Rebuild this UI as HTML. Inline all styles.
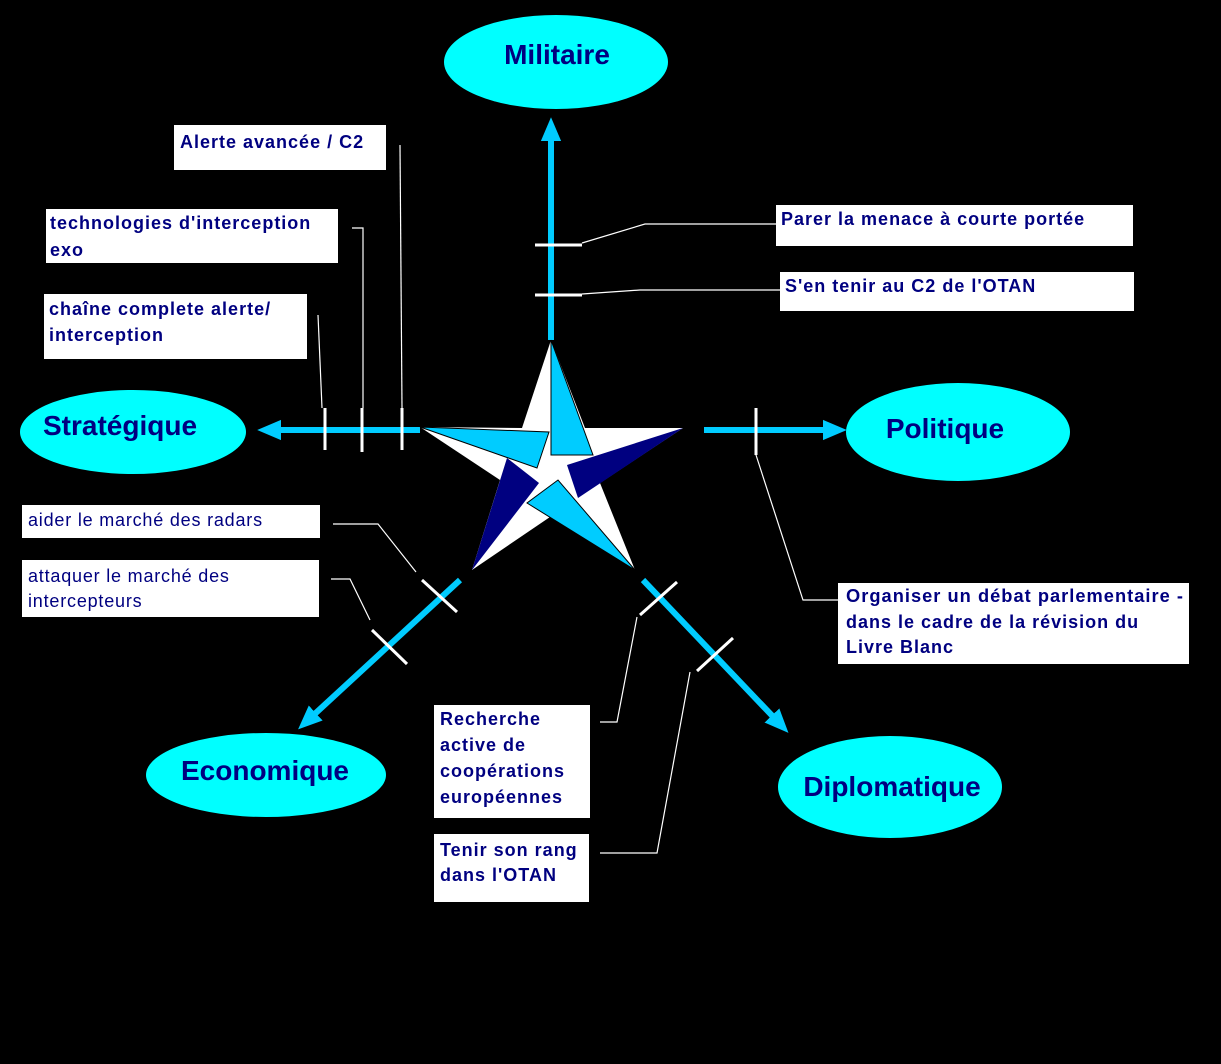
<!DOCTYPE html>
<html><head><meta charset="utf-8"><style>
html,body{margin:0;padding:0;background:#000;}
svg{display:block;}
.b{font-family:"Liberation Sans",sans-serif;font-weight:bold;font-size:18px;fill:#000080;letter-spacing:1px;}
.n{font-family:"Liberation Sans",sans-serif;font-size:18px;fill:#000080;letter-spacing:0.8px;}
.e{font-family:"Liberation Sans",sans-serif;font-weight:bold;font-size:28px;fill:#000080;}
</style></head><body>
<svg width="1221" height="1064" viewBox="0 0 1221 1064" xmlns="http://www.w3.org/2000/svg">
<rect width="1221" height="1064" fill="#000"/>
<defs>
<marker id="ah" markerWidth="4" markerHeight="4" refX="2.2" refY="2" orient="auto" markerUnits="strokeWidth">
<path d="M0,0.3 L4,2 L0,3.7 z" fill="#00ccff"/>
</marker>
</defs>
<ellipse cx="556" cy="62" rx="112" ry="47" fill="#00ffff"/>
<text class="e" x="557" y="64" text-anchor="middle">Militaire</text>
<ellipse cx="133" cy="432" rx="113" ry="42" fill="#00ffff"/>
<text class="e" x="120" y="435" text-anchor="middle">Stratégique</text>
<ellipse cx="958" cy="432" rx="112" ry="49" fill="#00ffff"/>
<text class="e" x="945" y="438" text-anchor="middle">Politique</text>
<ellipse cx="266" cy="775" rx="120" ry="42" fill="#00ffff"/>
<text class="e" x="265" y="780" text-anchor="middle">Economique</text>
<ellipse cx="890" cy="787" rx="112" ry="51" fill="#00ffff"/>
<text class="e" x="892" y="796" text-anchor="middle">Diplomatique</text>

<g stroke="#00ccff" stroke-width="6" fill="none" marker-end="url(#ah)">
<line x1="551" y1="340" x2="551" y2="128"/>
<line x1="420" y1="430" x2="268" y2="430"/>
<line x1="704" y1="430" x2="836" y2="430"/>
<line x1="460" y1="580" x2="306" y2="722"/>
<line x1="643" y1="580" x2="781" y2="725"/>
</g>

<polygon points="551,340 585,428 683,428 600,483 635,570 550,517 472,570 500,480 420,427 522,428" fill="#fff"/>
<polygon points="551,340 551,455 593,455" fill="#00ccff" stroke="#000" stroke-width="1"/>
<polygon points="420,427 549,432 537,468" fill="#00ccff" stroke="#000" stroke-width="1"/>
<polygon points="683,428 567,465 578,498" fill="#000080"/>
<polygon points="635,570 558,480 527,503" fill="#00ccff" stroke="#000" stroke-width="1"/>
<polygon points="472,570 507,458 539,483" fill="#000080"/>

<g stroke="#fff" stroke-width="3" fill="none">
<line x1="535" y1="245" x2="582" y2="245"/>
<line x1="535" y1="295" x2="582" y2="295"/>
<line x1="325" y1="408" x2="325" y2="450"/>
<line x1="362" y1="408" x2="362" y2="452"/>
<line x1="402" y1="408" x2="402" y2="450"/>
<line x1="756" y1="408" x2="756" y2="455"/>
<line x1="422" y1="580" x2="457" y2="612"/>
<line x1="372" y1="630" x2="407" y2="664"/>
<line x1="640" y1="615" x2="677" y2="582"/>
<line x1="697" y1="671" x2="733" y2="638"/>
</g>

<g stroke="#fff" stroke-width="1.2" fill="none">
<polyline points="582,243 645,224 776,224"/>
<polyline points="582,294 640,290 780,290"/>
<polyline points="400,145 402,408"/>
<polyline points="352,228 363,228 363,408"/>
<polyline points="318,315 322,408"/>
<polyline points="333,524 378,524 416,572"/>
<polyline points="331,579 350,579 370,620"/>
<polyline points="600,722 617,722 637,617"/>
<polyline points="600,853 657,853 690,672"/>
<polyline points="756,455 803,600 838,600"/>
</g>

<g fill="#fff">
<rect x="174" y="125" width="212" height="45"/>
<rect x="46" y="209" width="292" height="54"/>
<rect x="44" y="294" width="263" height="65"/>
<rect x="22" y="505" width="298" height="33"/>
<rect x="22" y="560" width="297" height="57"/>
<rect x="776" y="205" width="357" height="41"/>
<rect x="780" y="272" width="354" height="39"/>
<rect x="838" y="583" width="351" height="81"/>
<rect x="434" y="705" width="156" height="113"/>
<rect x="434" y="834" width="155" height="68"/>
</g>
<text class="b" x="180" y="148">Alerte avancée  / C2</text>
<text class="b" x="50" y="229">technologies d'interception</text>
<text class="b" x="50" y="256">exo</text>
<text class="b" x="49" y="315">chaîne complete alerte/</text>
<text class="b" x="49" y="341">interception</text>
<text class="n" x="28" y="526">aider le marché des radars</text>
<text class="n" x="28" y="582">attaquer le marché des</text>
<text class="n" x="28" y="607">intercepteurs</text>
<text class="b" x="781" y="225">Parer la menace à courte portée</text>
<text class="b" x="785" y="292">S'en tenir au C2 de l'OTAN</text>
<text class="b" x="846" y="602" textLength="338" lengthAdjust="spacingAndGlyphs">Organiser un débat parlementaire -</text>
<text class="b" x="846" y="628">dans le cadre de la révision du</text>
<text class="b" x="846" y="653">Livre Blanc</text>
<text class="b" x="440" y="725">Recherche</text>
<text class="b" x="440" y="751">active de</text>
<text class="b" x="440" y="777">coopérations</text>
<text class="b" x="440" y="803">européennes</text>
<text class="b" x="440" y="856">Tenir son rang</text>
<text class="b" x="440" y="881">dans l'OTAN</text>
</svg>
</body></html>
